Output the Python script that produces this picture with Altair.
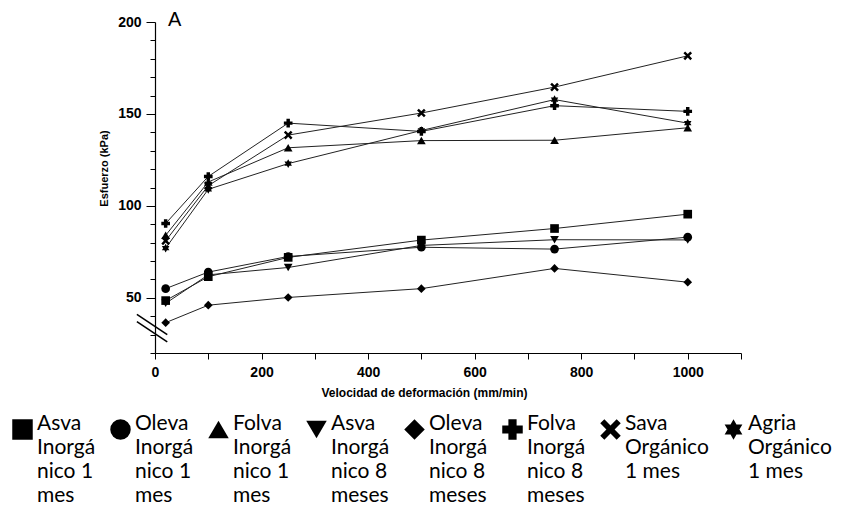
import altair as alt
import pandas as pd

# x values (mm/min)
SPEED = [20, 100, 250, 500, 750, 1000]

# series names (legend labels, '|' = line break)
SERIES = [
    "Asva|Inorgá|nico 1|mes",
    "Oleva|Inorgá|nico 1|mes",
    "Folva|Inorgá|nico 1|mes",
    "Asva|Inorgá|nico 8|meses",
    "Oleva|Inorgá|nico 8|meses",
    "Folva|Inorgá|nico 8|meses",
    "Sava|Orgánico|1 mes",
    "Agria|Orgánico|1 mes",
]

# Esfuerzo (kPa) per series
ASVA_1 = [48.5, 61.5, 72.0, 81.4, 87.7, 95.5]
OLEVA_1 = [55.0, 64.0, 72.5, 77.5, 76.5, 83.0]
FOLVA_1 = [84.0, 113.0, 131.6, 135.5, 135.7, 142.5]
ASVA_8 = [47.0, 62.5, 66.5, 78.5, 81.6, 81.5]
OLEVA_8 = [36.5, 46.0, 50.2, 55.0, 66.0, 58.5]
FOLVA_8 = [90.4, 116.0, 145.0, 140.5, 154.5, 151.4]
SAVA = [81.0, 111.0, 138.5, 150.5, 164.6, 181.6]
AGRIA = [77.0, 109.0, 123.0, 141.0, 157.8, 145.0]
VALUES = [ASVA_1, OLEVA_1, FOLVA_1, ASVA_8, OLEVA_8, FOLVA_8, SAVA, AGRIA]

# axis break marks (data units)
BREAK_X1 = [-34, -34]
BREAK_Y1 = [41.0, 37.0]
BREAK_X2 = [23, 23]
BREAK_Y2 = [30.0, 26.0]

X_PATH = ("M-1,-0.6 L-0.6,-1 L0,-0.4 L0.6,-1 L1,-0.6 L0.4,0 L1,0.6 L0.6,1 "
          "L0,0.4 L-0.6,1 L-1,0.6 L-0.4,0 Z")
STAR_PATH = ("M0,-1 L0.289,-0.5 L0.866,-0.5 L0.577,0 L0.866,0.5 L0.289,0.5 "
             "L0,1 L-0.289,0.5 L-0.866,0.5 L-0.577,0 L-0.866,-0.5 L-0.289,-0.5 Z")
SHAPES = ["square", "circle", "triangle-up", "triangle-down", "diamond",
          "cross", X_PATH, STAR_PATH]

rows = []
for name, vals in zip(SERIES, VALUES):
    for xv, yv in zip(SPEED, vals):
        rows.append({"speed": xv, "stress": yv, "series": name})
df = pd.DataFrame(rows)

breaks = pd.DataFrame({"speed": BREAK_X1, "stress": BREAK_Y1,
                       "speed2": BREAK_X2, "stress2": BREAK_Y2})
panel = pd.DataFrame({"speed": [37], "stress": [201], "t": ["A"]})

AXIS_FONT = "Liberation Sans"

x_enc = alt.X(
    "speed:Q",
    scale=alt.Scale(domain=[0, 1100], nice=False, zero=False),
    axis=alt.Axis(
        title="Velocidad de deformación (mm/min)",
        values=list(range(0, 1101, 100)),
        format="d",
        labelExpr="(datum.value % 200 === 0 && datum.value <= 1000) ? datum.label : ''",
        labelOverlap=False,
        tickSize=6,
        labelPadding=6,
        labelFont=AXIS_FONT,
        labelFontSize=14,
        labelFontWeight="bold",
        titleFont=AXIS_FONT,
        titleFontSize=12,
        titleFontWeight="bold",
        titleX=269,
        titleY=34,
        domainColor="black",
        domainWidth=1.2,
        tickColor="black",
        labelColor="black",
        titleColor="black",
        grid=False,
        labelFlush=False,
    ),
)
y_enc = alt.Y(
    "stress:Q",
    scale=alt.Scale(domain=[20, 200], nice=False, zero=False),
    axis=alt.Axis(
        title="Esfuerzo (kPa)",
        values=list(range(20, 201, 10)),
        format="d",
        labelExpr="datum.value % 50 === 0 ? datum.label : ''",
        labelOverlap=False,
        tickSize={"condition": {"test": "datum.value % 50 === 0", "value": 9}, "value": 5},
        labelPadding=5,
        labelFont=AXIS_FONT,
        labelFontSize=14,
        labelFontWeight="bold",
        titleFont=AXIS_FONT,
        titleFontSize=11,
        titleFontWeight="bold",
        titleX=-51,
        titleY=146,
        titleBaseline="middle",
        domainColor="black",
        domainWidth=1.2,
        tickColor="black",
        labelColor="black",
        titleColor="black",
        grid=False,
        labelFlush=False,
    ),
)

lines = alt.Chart(df).mark_line(color="#222222", strokeWidth=1).encode(
    x=x_enc, y=y_enc, detail="series:N", order="speed:Q"
)

points = alt.Chart(df).mark_point(filled=True, color="black", size=75, opacity=1).encode(
    x=x_enc,
    y=y_enc,
    shape=alt.Shape(
        "series:N",
        scale=alt.Scale(domain=SERIES, range=SHAPES),
        legend=alt.Legend(
            title=None,
            orient="none",
            legendX=-143,
            legendY=397,
            direction="horizontal",
            columns=8,
            gridAlign="none",
            columnPadding=14,
            symbolSize=420,
            symbolFillColor="black",
            symbolStrokeWidth=0,
            symbolOffset=0,
            labelOffset=4,
            labelFont="Lato",
            labelFontSize=21,
            labelColor="black",
            labelLimit=300,
            labelBaseline="alphabetic",
            labelExpr="split(datum.label, '|')",
            padding=0,
        ),
    ),
)

brk = alt.Chart(breaks).mark_rule(color="black", strokeWidth=1.5).encode(
    x=x_enc, y=y_enc, x2="speed2:Q", y2="stress2:Q"
)

label = alt.Chart(panel).mark_text(
    font=AXIS_FONT, fontSize=20, color="black", align="center", baseline="middle"
).encode(x=x_enc, y=y_enc, text="t:N")

chart = (
    alt.layer(lines, points, brk, label)
    .properties(
        width=586,
        height=331,
        autosize=alt.AutoSizeParams(type="none"),
        padding={"left": 147, "top": 14, "right": 110, "bottom": 153},
    )
    .configure(background="white", style={"guide-label": {"lineHeight": 24}})
    .configure_view(strokeWidth=0)
)

chart.save("out.html", embed_options={"renderer": "svg", "actions": False})
